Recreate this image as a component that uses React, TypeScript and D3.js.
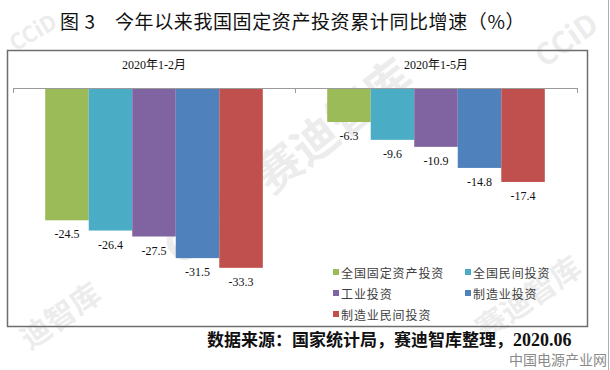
import * as d3 from 'd3';

const periods = ['2020年1-2月', '2020年1-5月'];
const seriesNames = ['全国固定资产投资', '全国民间投资', '工业投资', '制造业投资', '制造业民间投资'];
const seriesColors = ['#9bbb59', '#4bacc6', '#8064a2', '#4f81bd', '#c0504d'];
const valuesJanFeb = [-24.5, -26.4, -27.5, -31.5, -33.3];
const valuesJanMay = [-6.3, -9.6, -10.9, -14.8, -17.4];
const yTicks = [-40, 0];

const serif = '"Liberation Serif", "Times New Roman", "Noto Sans CJK SC", serif';
const cjk = '"Noto Sans CJK SC", sans-serif';

const watermarks = [
  { text: 'CCiD 赛迪智库', x: 290, y: 165, size: 46, angle: -38 },
  { text: '迪智库', x: 62, y: 318, size: 30, angle: -35 },
  { text: '赛迪智库', x: 530, y: 300, size: 30, angle: -35 },
  { text: 'CCiD', x: 34, y: 34, size: 22, angle: -30 },
  { text: 'CCiD', x: 568, y: 42, size: 30, angle: -35 },
];

function App() {
  const width = 610;
  const height = 370;
  const x0 = d3.scaleBand<string>().domain(periods).range([13, 577]);
  const x1 = d3
    .scaleBand<string>()
    .domain(seriesNames)
    .range([0, x0.bandwidth()])
    .paddingInner(0)
    .paddingOuter(0.74);
  const y = d3.scaleLinear().domain([yTicks[0], yTicks[1]]).range([304, 88]);
  const table = periods.map((period, i) => ({
    period,
    values: i === 0 ? valuesJanFeb : valuesJanMay,
  }));
  const boundaries = [...periods.map((p) => x0(p) ?? 0), 577];

  return (
    <svg width={width} height={height} style={{ position: 'absolute', left: 0, top: 0, background: '#fff' }}>
      {watermarks.map((w, i) => (
        <text
          key={i}
          transform={`translate(${w.x},${w.y}) rotate(${w.angle})`}
          textAnchor="middle"
          dominantBaseline="middle"
          fontFamily={cjk}
          fontWeight="bold"
          fontSize={w.size}
          fill="#000"
          opacity={0.07}
        >
          {w.text}
        </text>
      ))}
      <line x1={608.5} x2={608.5} y1={0} y2={height} stroke="#b0b0b0" />

      <text x={60} y={29} fontFamily={cjk} fontSize={19} fill="#111" letterSpacing={0.6}>
        图 3
      </text>
      <text x={115} y={29} fontFamily={cjk} fontSize={19} fill="#111" letterSpacing={0.6}>
        今年以来我国固定资产投资累计同比增速（%）
      </text>

      <rect x={7.5} y={50.5} width={580} height={276} fill="none" stroke="#6e6e6e" strokeWidth={1.5} />

      {table.map((group) => (
        <g key={group.period} transform={`translate(${x0(group.period)},0)`}>
          <text
            x={x0.bandwidth() / 2}
            y={69}
            textAnchor="middle"
            fontFamily={serif}
            fontSize={12}
            fill="#111"
          >
            {group.period}
          </text>
          {group.values.map((v, j) => {
            const bx = x1(seriesNames[j]) ?? 0;
            return (
              <g key={seriesNames[j]}>
                <rect
                  x={bx}
                  y={y(0)}
                  width={x1.bandwidth()}
                  height={y(v) - y(0)}
                  fill={seriesColors[j]}
                />
                <text
                  x={bx + x1.bandwidth() / 2}
                  y={y(v) + 18}
                  textAnchor="middle"
                  fontFamily={serif}
                  fontSize={12}
                  fill="#111"
                >
                  {v.toFixed(1)}
                </text>
              </g>
            );
          })}
        </g>
      ))}

      <line x1={13} x2={577} y1={y(0) + 0.5} y2={y(0) + 0.5} stroke="#9a9a9a" />
      {boundaries.map((bx, i) => (
        <line key={i} x1={bx + 0.5} x2={bx + 0.5} y1={y(0)} y2={y(0) + 5} stroke="#9a9a9a" />
      ))}

      {seriesNames.map((name, i) => {
        const col = i % 2;
        const row = Math.floor(i / 2);
        const lx = col === 0 ? 333 : 465;
        const ly = 272 + row * 21;
        return (
          <g key={name}>
            <rect x={lx} y={ly - 3} width={6} height={6} fill={seriesColors[i]} />
            <text
              x={lx + 8}
              y={ly}
              dominantBaseline="central"
              fontFamily={cjk}
              fontSize={12}
              letterSpacing={0.9}
              fill="#404040"
            >
              {name}
            </text>
          </g>
        );
      })}

      <text x={207} y={346} fontFamily={cjk} fontWeight="bold" fontSize={17} fill="#111">
        数据来源：国家统计局，赛迪智库整理，
        <tspan fontFamily={serif} fontWeight="bold" fontSize={18}>
          2020.06
        </tspan>
      </text>
      <text x={607} y={365} textAnchor="end" fontFamily={cjk} fontSize={14} fill="#8a8a8a">
        中国电源产业网
      </text>
    </svg>
  );
}

export default App;
